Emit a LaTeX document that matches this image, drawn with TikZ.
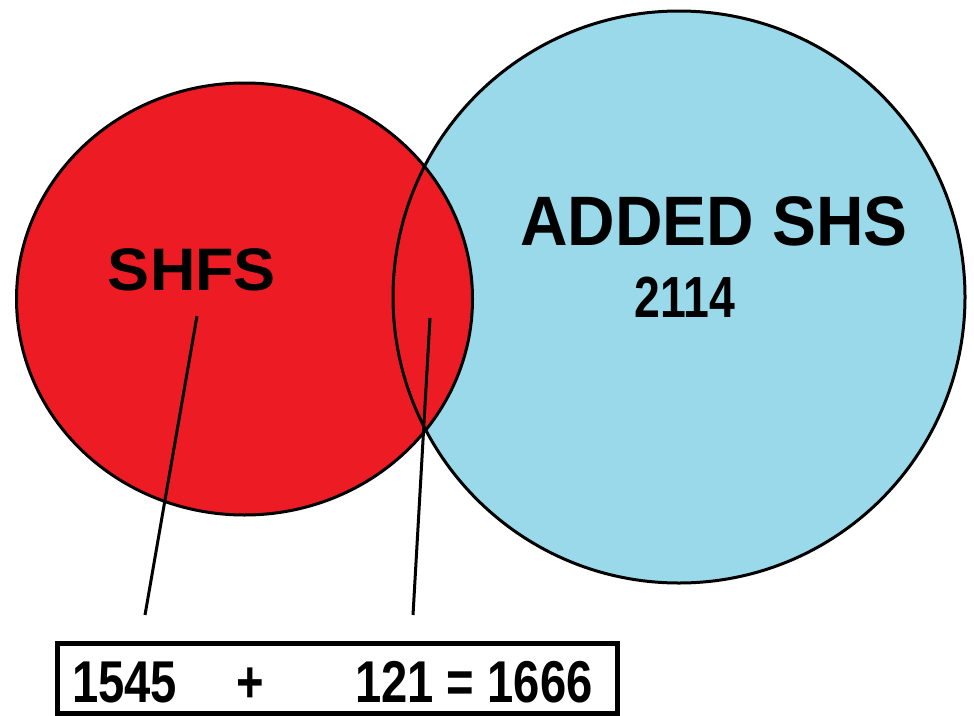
\documentclass[tikz,border=0pt]{standalone}
\usepackage{fontspec}
\setmainfont{Liberation Sans}
\definecolor{vred}{HTML}{ED1C24}
\definecolor{vblue}{HTML}{99D9EA}
\tikzset{
  outline/.style={draw=black, line width=3pt},
  leader/.style={draw=black, line width=3pt},
  bigtxt/.style={font=\bfseries\fontsize{60}{72}\selectfont, inner sep=0pt, anchor=base},
  numtxt/.style={font=\bfseries\fontsize{59}{70}\selectfont, inner sep=0pt},
}
\begin{document}
\begin{tikzpicture}[x=1pt,y=-1pt]
\useasboundingbox (0,0) rectangle (974,715);
\fill[white] (0,0) rectangle (974,715);
% fills
\fill[vblue] (679,297) circle[radius=286pt];
\fill[vred] (244.5,299) ellipse[x radius=228pt, y radius=216pt];
% outlines
\draw[outline] (679,297) circle[radius=286pt];
\draw[outline] (244.5,299) ellipse[x radius=228pt, y radius=216pt];
% texts
\node[bigtxt, xscale=1.05] (shfs) at (192,290) {SHFS};
\node[bigtxt, font=\bfseries\fontsize{70}{80}\selectfont, xscale=0.94] (added) at (714,245) {ADDED SHS};
\node[numtxt, anchor=base, xscale=0.8, font=\bfseries\fontsize{58}{70}\selectfont] (n2114) at (685,317) {2114};
% box
\node[draw=black, line width=5pt, minimum width=560pt, minimum height=70pt, anchor=north west, inner sep=0pt] (sumbox) at (54.5,640.5) {};
\node[numtxt, anchor=base west, xscale=0.8] (a) at (72,702) {1545};
\node[numtxt, anchor=base, xscale=0.8] (plus) at (250,702) {+};
\node[numtxt, anchor=base west, xscale=0.8] (b) at (355,702) {121 = 1666};
% leaders
\coordinate (l1t) at (197,316);
\coordinate (l1b) at (145,615);
\coordinate (l2t) at (430,318);
\coordinate (l2b) at (413,615);
\draw[leader] (l1t) -- (l1b);
\draw[leader] (l2t) -- (l2b);
\end{tikzpicture}
\end{document}
